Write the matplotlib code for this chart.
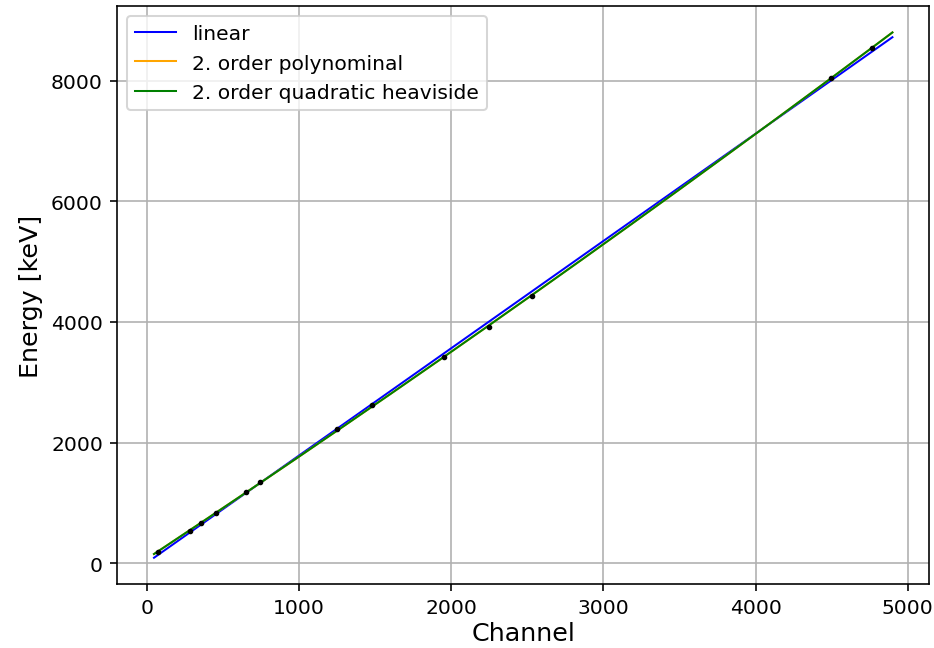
import numpy as np
import matplotlib.pyplot as plt

# Kalibrierpunkte (Kanal, Energie in keV)
channel = np.array([72, 282, 354, 452, 649, 741, 1252, 1481, 1953, 2248, 2530, 4495, 4764])
energy = np.array([183, 531, 664, 830, 1178, 1344, 2224, 2622, 3419, 3917, 4432, 8050, 8548])

# Bereich der Fitkurven
x_start = 46
x_stop = 4900

plt.figure(figsize=(6.4, 4.445), dpi=146)
plt.subplots_adjust(left=0.1253, right=0.9946, top=0.989, bottom=0.0986)

x = np.linspace(x_start, x_stop, 500)

lin = np.polyfit(channel, energy, 1)
quad = np.polyfit(channel, energy, 2)

plt.plot(x, np.polyval(lin, x), color='blue', linewidth=1, label='linear')
plt.plot(x, np.polyval(quad, x), color='orange', linewidth=1, label='2. order polynominal')
plt.plot(x, np.polyval(quad, x), color='green', linewidth=1, label='2. order quadratic heaviside')
plt.plot(channel, energy, '.', color='black', markersize=3.5)

plt.xlabel('Channel', fontsize=12.5, labelpad=2)
plt.ylabel('Energy [keV]', fontsize=12.5)
plt.grid(True)
plt.legend(loc='upper left')

plt.savefig('out.png', dpi=146)
plt.close()
